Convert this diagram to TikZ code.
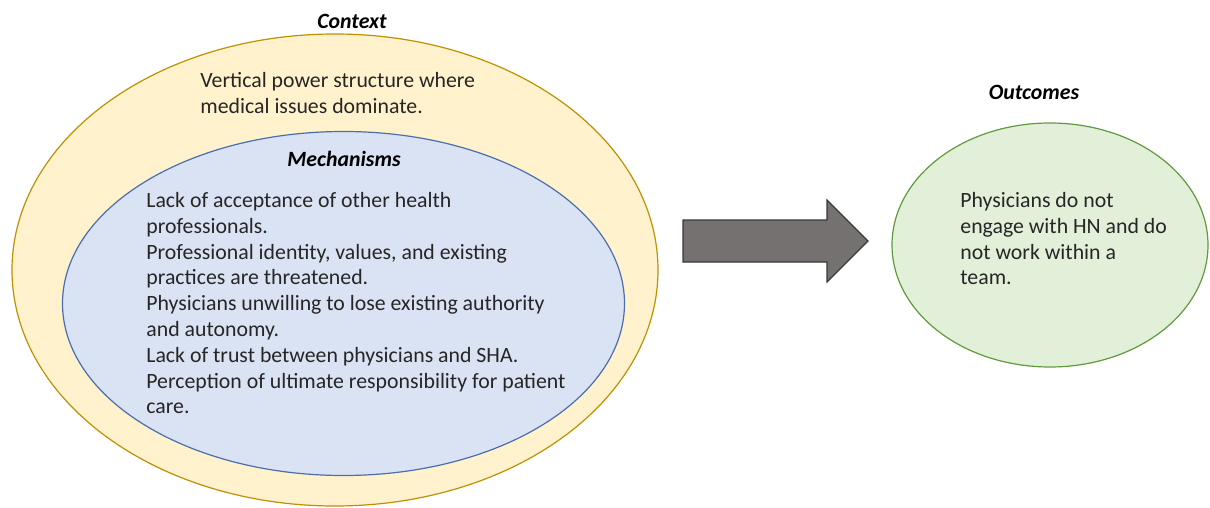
\documentclass[tikz,border=0pt]{standalone}
\usepackage{fontspec}
\setmainfont{Carlito}
\usepackage{tikz}
\usetikzlibrary{shapes.geometric}

\definecolor{ctxfill}{HTML}{FFF2CC}
\definecolor{ctxline}{HTML}{BF9000}
\definecolor{mechfill}{HTML}{DAE3F3}
\definecolor{mechline}{HTML}{4A6EAE}
\definecolor{outfill}{HTML}{E2F0D9}
\definecolor{outline}{HTML}{5F9A3C}
\definecolor{arrfill}{HTML}{767171}
\definecolor{arrline}{HTML}{3A3838}

\begin{document}
\begin{tikzpicture}[x=0.5pt, y=-0.5pt,
        oval/.style={ellipse, draw, line width=0.6pt, inner sep=0pt},
        heading/.style={font=\fontsize{10.9}{12.9}\selectfont\bfseries\itshape},
        body/.style={font=\fontsize{10.9}{12.9}\selectfont, align=left, anchor=north west, inner sep=0pt, text=black!85}]
        \useasboundingbox (0,0) rectangle (1210,508);
        % ellipses
        \node[oval, draw=ctxline, fill=ctxfill, minimum width=323pt, minimum height=236pt] (context) at (335,270) {};
        \node[oval, draw=mechline, fill=mechfill, minimum width=281pt, minimum height=172pt] (mech) at (343.5,303.5) {};
        \node[oval, draw=outline, fill=outfill, minimum width=158pt, minimum height=122pt] (outcome) at (1050,245) {};
        % titles
        \node[heading] (ctxtitle) at (352,21) {Context};
        \node[heading] (mechtitle) at (344,159) {Mechanisms};
        \node[heading] (outtitle) at (1034,92) {Outcomes};
        % texts
        \node[body] (ctxtext) at (200,72) {Vertical power structure where\\medical issues dominate.};
        \node[body] (mechtext) at (146,192) {Lack of acceptance of other health\\professionals.\\Professional identity, values, and existing\\practices are threatened.\\Physicians unwilling to lose existing authority\\and autonomy.\\Lack of trust between physicians and SHA.\\Perception of ultimate responsibility for patient\\care.};
        \node[body] (outtext) at (960,192) {Physicians do not\\engage with HN and do\\not work within a\\team.};
        % block arrow
        \draw[draw=arrline, fill=arrfill, line width=0.6pt, line join=miter]
            (683,220) -- (827,220) -- (827,200) -- (868,241) -- (827,282) -- (827,262) -- (683,262) -- cycle;
    \end{tikzpicture}
\end{document}
